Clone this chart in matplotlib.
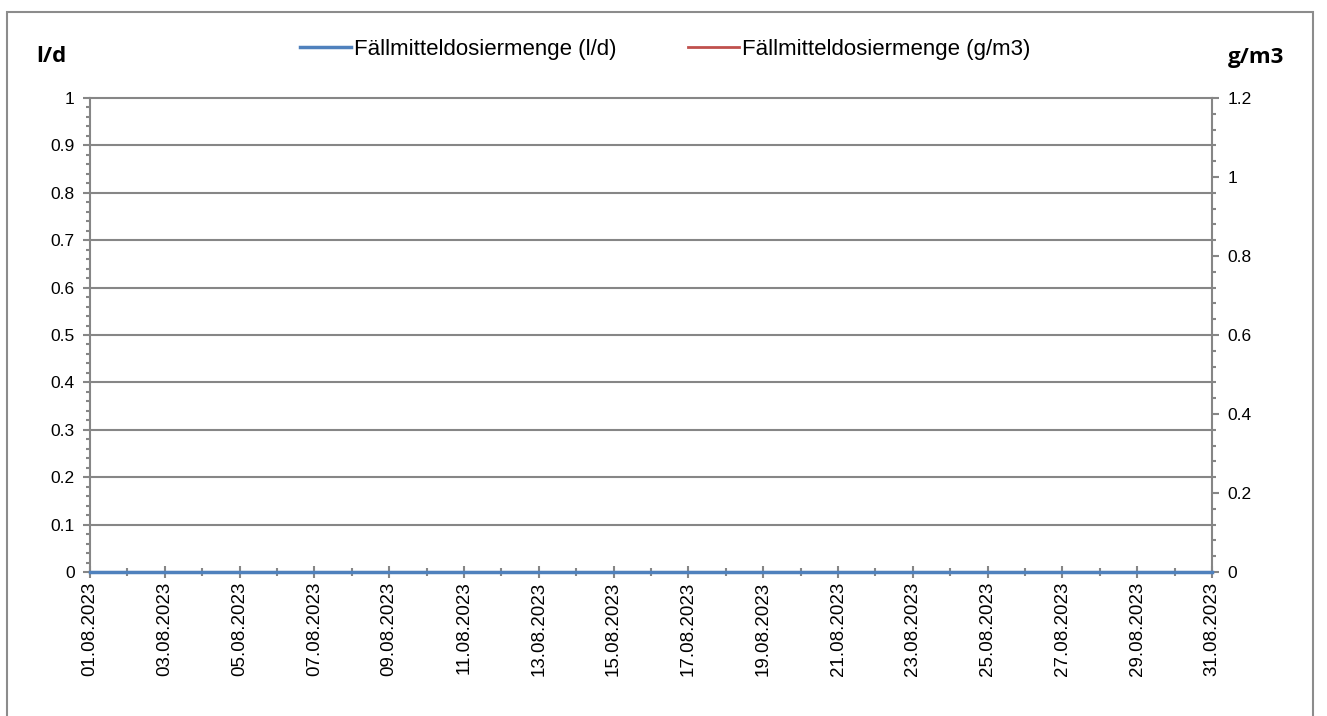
import matplotlib
matplotlib.use('Agg')
import matplotlib.pyplot as plt
import matplotlib.dates as mdates
from matplotlib.ticker import MultipleLocator
from matplotlib.patches import Rectangle
from datetime import date, timedelta

# Daily values for August 2023 (all zero in the source chart)
dates = [date(2023, 8, 1) + timedelta(days=i) for i in range(31)]
dose_l_per_d = [0] * 31
dose_g_per_m3 = [0] * 31

label_ld = 'Fällmitteldosiermenge (l/d)'
label_gm3 = 'Fällmitteldosiermenge (g/m3)'

plt.rcParams['font.family'] = ['Liberation Sans', 'DejaVu Sans']

W, H = 1327, 716
fig = plt.figure(figsize=(W / 100, H / 100), dpi=100)

# outer chart frame
fig.patches.append(Rectangle((7 / W, -0.01), (1313 - 7) / W, (H - 12) / H + 0.01,
                             transform=fig.transFigure, fill=False,
                             edgecolor='#8c8c8c', linewidth=1.5))

ax = fig.add_axes([90 / W, 1 - 572 / H, (1212 - 90) / W, (572 - 98) / H])
ax2 = ax.twinx()

grey = '#868686'
ax2.plot(dates, dose_g_per_m3, color='#c0504d', linewidth=2.0, label=label_gm3,
         zorder=2, clip_on=False)
ax.plot(dates, dose_l_per_d, color='#4f81bd', linewidth=2.5, label=label_ld,
        zorder=3, clip_on=False)
ax.set_zorder(ax2.get_zorder() + 1)
ax.patch.set_visible(False)

ax.set_xlim(dates[0], dates[-1])
ax.set_ylim(0, 1)
ax2.set_ylim(0, 1.2)

ax.yaxis.set_major_locator(MultipleLocator(0.1))
ax.yaxis.set_minor_locator(MultipleLocator(0.02))
ax2.yaxis.set_major_locator(MultipleLocator(0.2))
ax2.yaxis.set_minor_locator(MultipleLocator(0.04))
ax.yaxis.set_major_formatter(plt.FuncFormatter(lambda v, p: f'{v:g}'))
ax2.yaxis.set_major_formatter(plt.FuncFormatter(lambda v, p: f'{v:g}'))

ax.xaxis.set_major_locator(mdates.DayLocator(interval=2))
ax.xaxis.set_minor_locator(mdates.DayLocator())
ax.xaxis.set_major_formatter(mdates.DateFormatter('%d.%m.%Y'))

ax.grid(axis='y', which='major', color=grey, linewidth=1.5)
for gl in ax.get_ygridlines():
    gl.set_clip_on(False)
ax.set_axisbelow(True)

for a in (ax, ax2):
    for s in a.spines.values():
        s.set_visible(False)
    a.tick_params(which='both', colors=grey, labelcolor='black', labelsize=12.5, width=1.5)
    a.tick_params(which='major', length=5)
    a.tick_params(which='minor', length=3)
ax.spines['left'].set_visible(True)
ax.spines['left'].set_color(grey)
ax.spines['left'].set_linewidth(1.5)
ax2.spines['right'].set_visible(True)
ax2.spines['right'].set_color(grey)
ax2.spines['right'].set_linewidth(1.5)
ax.tick_params(axis='x', which='both', direction='inout', pad=3, labelsize=13.5,
               labelrotation=90)
ax.tick_params(axis='x', which='major', length=8)
ax.tick_params(axis='x', which='minor', length=6)
ax.tick_params(axis='y', pad=6)
ax2.tick_params(axis='y', pad=6)

fig.text(36 / W, 1 - 57 / H, 'l/d', fontsize=16, fontweight='bold',
         family='Open Sans', ha='left', va='center')
fig.text(1228 / W, 1 - 57 / H, 'g/m3', fontsize=16, fontweight='bold',
         family='Open Sans', ha='left', va='center')

h1, l1 = ax.get_legend_handles_labels()
h2, l2 = ax2.get_legend_handles_labels()
fig.legend(h1 + h2, l1 + l2, loc='center', bbox_to_anchor=(665 / W, 1 - 49 / H),
           ncol=2, frameon=False, fontsize=16, handlelength=2.3,
           handletextpad=0.15, columnspacing=3.2)

fig.savefig('out.png', dpi=100)
